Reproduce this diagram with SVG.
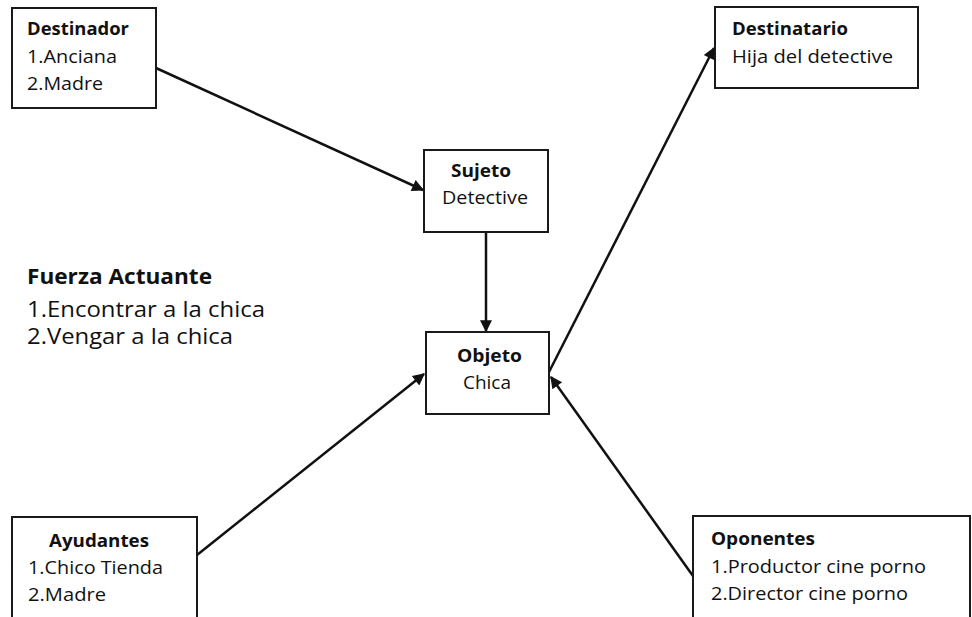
<svg xmlns="http://www.w3.org/2000/svg" width="972" height="617" viewBox="0 0 972 617">
<style>
.box{fill:#fff;stroke:#1a1a1a;stroke-width:2}
text{font-family:"Open Sans","Noto Sans","Liberation Sans",sans-serif;fill:#111;font-size:18.5px}
.b{font-weight:bold}
.big{font-size:21.5px}
.c{stroke:#111;stroke-width:2.5;fill:none;marker-end:url(#ah)}
</style>
<defs>
<marker id="ah" viewBox="0 0 10 10" refX="9" refY="5" markerWidth="6" markerHeight="4.8" orient="auto" markerUnits="strokeWidth">
<path d="M0,0 L10,5 L0,10 z" fill="#111"/>
</marker>
</defs>
<rect width="972" height="617" fill="#fff"/>
<g id="connectors">
<line class="c" x1="156" y1="68" x2="423" y2="190"/>
<line class="c" x1="486" y1="232" x2="486" y2="331"/>
<line class="c" x1="197" y1="555" x2="424" y2="374"/>
<line class="c" x1="549" y1="372" x2="714" y2="48"/>
<line class="c" x1="693" y1="576" x2="551" y2="377"/>
</g>
<g id="destinador">
<rect class="box" x="12" y="8" width="144" height="100"/>
<text class="b" x="27" y="35" textLength="102" lengthAdjust="spacingAndGlyphs">Destinador</text>
<text x="27" y="63" textLength="90" lengthAdjust="spacingAndGlyphs">1.Anciana</text>
<text x="27" y="90" textLength="76" lengthAdjust="spacingAndGlyphs">2.Madre</text>
</g>
<g id="sujeto">
<rect class="box" x="424" y="150" width="124" height="82"/>
<text class="b" x="451" y="177" textLength="60" lengthAdjust="spacingAndGlyphs">Sujeto</text>
<text x="442" y="204" textLength="86" lengthAdjust="spacingAndGlyphs">Detective</text>
</g>
<g id="objeto">
<rect class="box" x="426" y="332" width="123" height="82"/>
<text class="b" x="457" y="362" textLength="65" lengthAdjust="spacingAndGlyphs">Objeto</text>
<text x="463" y="389" textLength="48" lengthAdjust="spacingAndGlyphs">Chica</text>
</g>
<g id="destinatario">
<rect class="box" x="715" y="7" width="203" height="81"/>
<text class="b" x="732" y="35" textLength="116" lengthAdjust="spacingAndGlyphs">Destinatario</text>
<text x="732" y="63" textLength="161" lengthAdjust="spacingAndGlyphs">Hija del detective</text>
</g>
<g id="fuerza">
<text class="b big" x="27" y="284" textLength="185" lengthAdjust="spacingAndGlyphs">Fuerza Actuante</text>
<text class="big" x="27" y="317" textLength="238" lengthAdjust="spacingAndGlyphs">1.Encontrar a la chica</text>
<text class="big" x="27" y="344" textLength="206" lengthAdjust="spacingAndGlyphs">2.Vengar a la chica</text>
</g>
<g id="ayudantes">
<rect class="box" x="12" y="517" width="185" height="120"/>
<text class="b" x="49" y="547" textLength="100" lengthAdjust="spacingAndGlyphs">Ayudantes</text>
<text x="28" y="574" textLength="135" lengthAdjust="spacingAndGlyphs">1.Chico Tienda</text>
<text x="28" y="601" textLength="78" lengthAdjust="spacingAndGlyphs">2.Madre</text>
</g>
<g id="oponentes">
<rect class="box" x="693" y="516" width="277" height="120"/>
<text class="b" x="711" y="545" textLength="104" lengthAdjust="spacingAndGlyphs">Oponentes</text>
<text x="711" y="573" textLength="215" lengthAdjust="spacingAndGlyphs">1.Productor cine porno</text>
<text x="711" y="600" textLength="197" lengthAdjust="spacingAndGlyphs">2.Director cine porno</text>
</g>
</svg>
